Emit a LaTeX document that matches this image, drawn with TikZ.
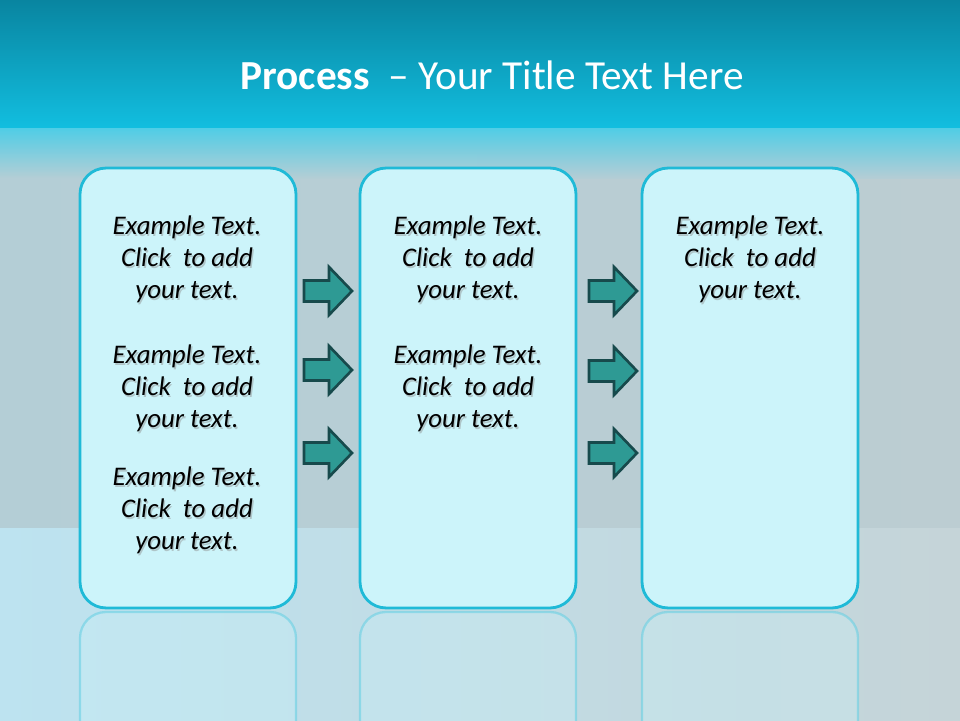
\documentclass[tikz,border=0pt]{standalone}
\usepackage{fontspec}
\setmainfont{Carlito}
\usepackage{tikz}
\usetikzlibrary{positioning}

\definecolor{headtop}{HTML}{0985A0}
\definecolor{headbot}{HTML}{12BEE0}
\definecolor{bandtop}{HTML}{45CDE8}
\definecolor{bgleft}{HTML}{B4CED6}
\definecolor{bgright}{HTML}{BCCDD2}
\definecolor{floorleft}{HTML}{BDE3F0}
\definecolor{floorright}{HTML}{C5D4D8}
\definecolor{boxfill}{HTML}{CCF4FA}
\definecolor{boxline}{HTML}{1FBAD7}
\definecolor{arrowfill}{HTML}{2E9A94}
\definecolor{arrowline}{HTML}{174A4C}

\tikzset{
  procbox/.style = {draw=boxline, fill=boxfill, line width=1.6pt,
    rounded corners=0.52cm, minimum width=4.32cm, minimum height=8.8cm, inner sep=0pt},
  reflbox/.style = {draw=boxline!70!white, draw opacity=0.55, fill=boxfill,
    fill opacity=0.3, line width=1.3pt, rounded corners=0.52cm},
  proctext/.style = {align=center, font=\fontsize{15.3}{18.2}\selectfont\itshape, text=black},
  textshade/.style = {proctext, text=black!45, opacity=0.45, xshift=0.8pt, yshift=-1.4pt},
  titletext/.style = {text=white, font=\fontsize{23.5}{28}\selectfont},
  blockarrow/.style = {draw=arrowline, fill=arrowfill, line width=1.5pt, line join=miter}
}

% text with its soft shadow
\newcommand{\procnote}[3]{%
  \node[textshade] at (#2) {#3};
  \node[proctext] (#1) at (#2) {#3};
}

\begin{document}
\begin{tikzpicture}[x=0.02cm, y=-0.02cm]
    \useasboundingbox (0,0) rectangle (960,720);

    % Background
    \shade[top color=headtop, bottom color=headbot] (0,0) rectangle (960,128);
    \shade[left color=bgleft, right color=bgright] (0,128) rectangle (960,528);
    \shade[top color=bandtop, bottom color=bgleft, opacity=0.9] (0,128) rectangle (960,178);
    \shade[left color=floorleft, right color=floorright] (0,528) rectangle (960,720);

    % Title
    \node[titletext] (title) at (492,75) {\textbf{Process}\ \ – Your Title Text Here};

    % Reflections
    \foreach \bx in {80,360,642}
      \draw[reflbox] (\bx,760) -- (\bx,612) -- (\bx+216,612) -- (\bx+216,760);

    % Boxes
    \node[procbox] (boxA) at (188,388) {};
    \node[procbox] (boxB) at (468,388) {};
    \node[procbox] (boxC) at (750,388) {};

    % Texts
    \procnote{noteA1}{187,259}{Example Text.\\Click\ \ to add\\your text.}
    \procnote{noteA2}{187,388}{Example Text.\\Click\ \ to add\\your text.}
    \procnote{noteA3}{187,510}{Example Text.\\Click\ \ to add\\your text.}
    \procnote{noteB1}{468,259}{Example Text.\\Click\ \ to add\\your text.}
    \procnote{noteB2}{468,388}{Example Text.\\Click\ \ to add\\your text.}
    \procnote{noteC1}{750,259}{Example Text.\\Click\ \ to add\\your text.}

    % Arrows
    \foreach \ax/\ay in {304/291, 304/370, 304/453, 589/291, 589/371, 589/453}
      \draw[blockarrow] (\ax,\ay-10.5) -- ++(25,0) -- ++(0,-13.5) -- ++(23,24)
        -- ++(-23,24) -- ++(0,-13.5) -- ++(-25,0) -- cycle;
\end{tikzpicture}
\end{document}
